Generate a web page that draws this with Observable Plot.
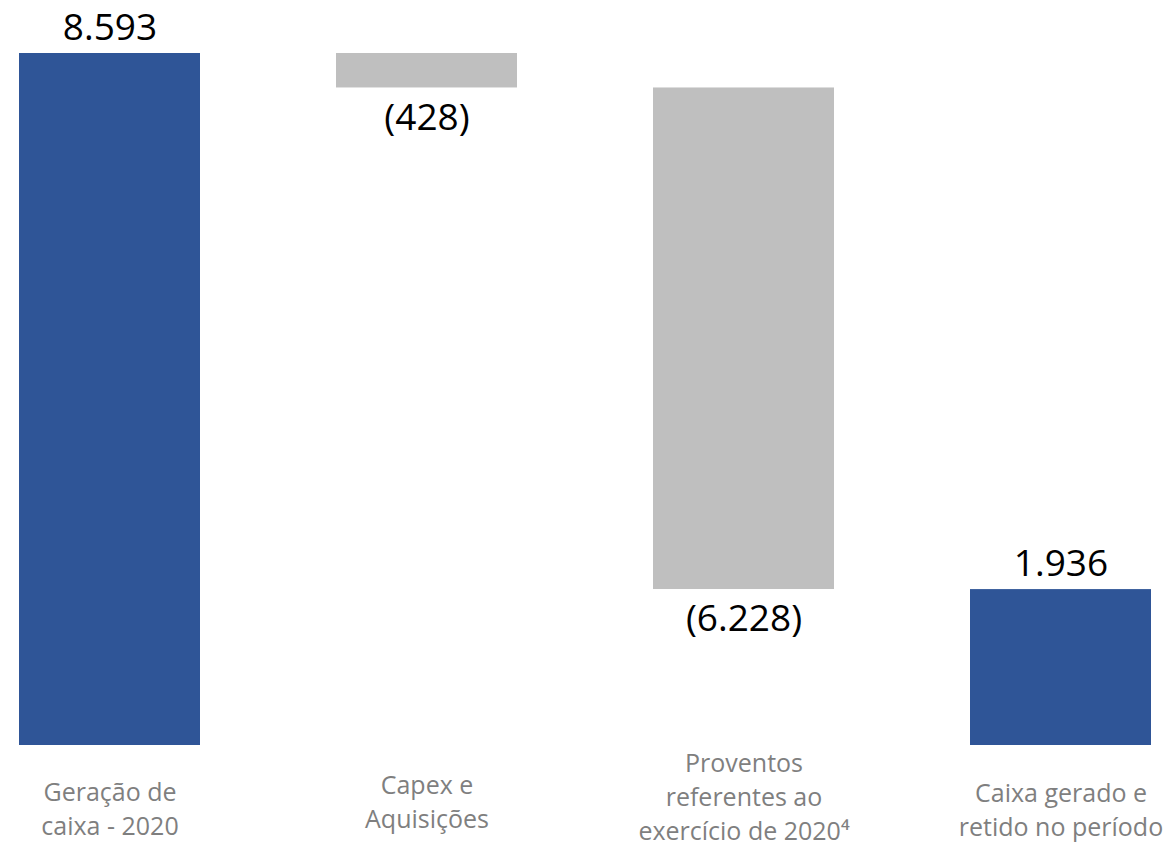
<!DOCTYPE html>
<html>
<head>
<meta charset="utf-8">
<script src="https://cdn.jsdelivr.net/npm/d3@7"></script>
<script src="https://cdn.jsdelivr.net/npm/@observablehq/plot@0.6"></script>
<style>
  html, body { margin: 0; padding: 0; background: #fff; }
  #chart svg { display: block; }
</style>
</head>
<body>
<div id="chart"></div>
<script>
// ---- data ----
const categories = [
  "Geração de\ncaixa - 2020",
  "Capex e\nAquisições",
  "Proventos\nreferentes ao\nexercício de 2020⁴",
  "Caixa gerado e\nretido no período"
];
const values = [8593, -428, -6228, 1936];
const kinds = ["total", "delta", "delta", "total"];
const valueLabels = ["8.593", "(428)", "(6.228)", "1.936"];

// ---- build waterfall rows ----
let running = 0;
const rows = categories.map((c, i) => {
  let y1, y2;
  if (kinds[i] === "total") {
    y1 = 0; y2 = values[i]; running = values[i];
  } else {
    y1 = running; y2 = running + values[i]; running = y2;
  }
  return {cat: c, y1, y2, kind: kinds[i], value: values[i], label: valueLabels[i]};
});

// label vertical layout (styling, not data)
const catDy = [62, 55, 50, 63];

const chart = Plot.plot({
  width: 1171,
  height: 846,
  marginLeft: 18,
  marginRight: 18,
  marginTop: 53,
  marginBottom: 101,
  style: {fontFamily: "'Open Sans', sans-serif", background: "#fff"},
  x: {domain: categories, paddingInner: 0.428, paddingOuter: 0, axis: null},
  y: {domain: [0, 8593], axis: null},
  marks: [
    Plot.rectY(rows, {
      x: "cat", y1: "y1", y2: "y2",
      fill: d => d.kind === "total" ? "#2f5597" : "#bfbfbf"
    }),
    Plot.text(rows.filter(d => d.value >= 0), {
      x: "cat", y: "y2", text: "label",
      dy: -25, fontSize: 37, fill: "#000"
    }),
    Plot.text(rows.filter(d => d.value < 0), {
      x: "cat", y: "y2", text: "label",
      dy: 30, fontSize: 37, fill: "#000"
    }),
    ...categories.map((c, i) => Plot.text([c], {
      x: d => d, frameAnchor: "bottom", text: d => d,
      dy: catDy[i], lineAnchor: "middle", lineHeight: 1.36,
      fontSize: 25, fill: "#7f7f7f"
    }))
  ]
});

document.getElementById("chart").appendChild(chart);
</script>
</body>
</html>
